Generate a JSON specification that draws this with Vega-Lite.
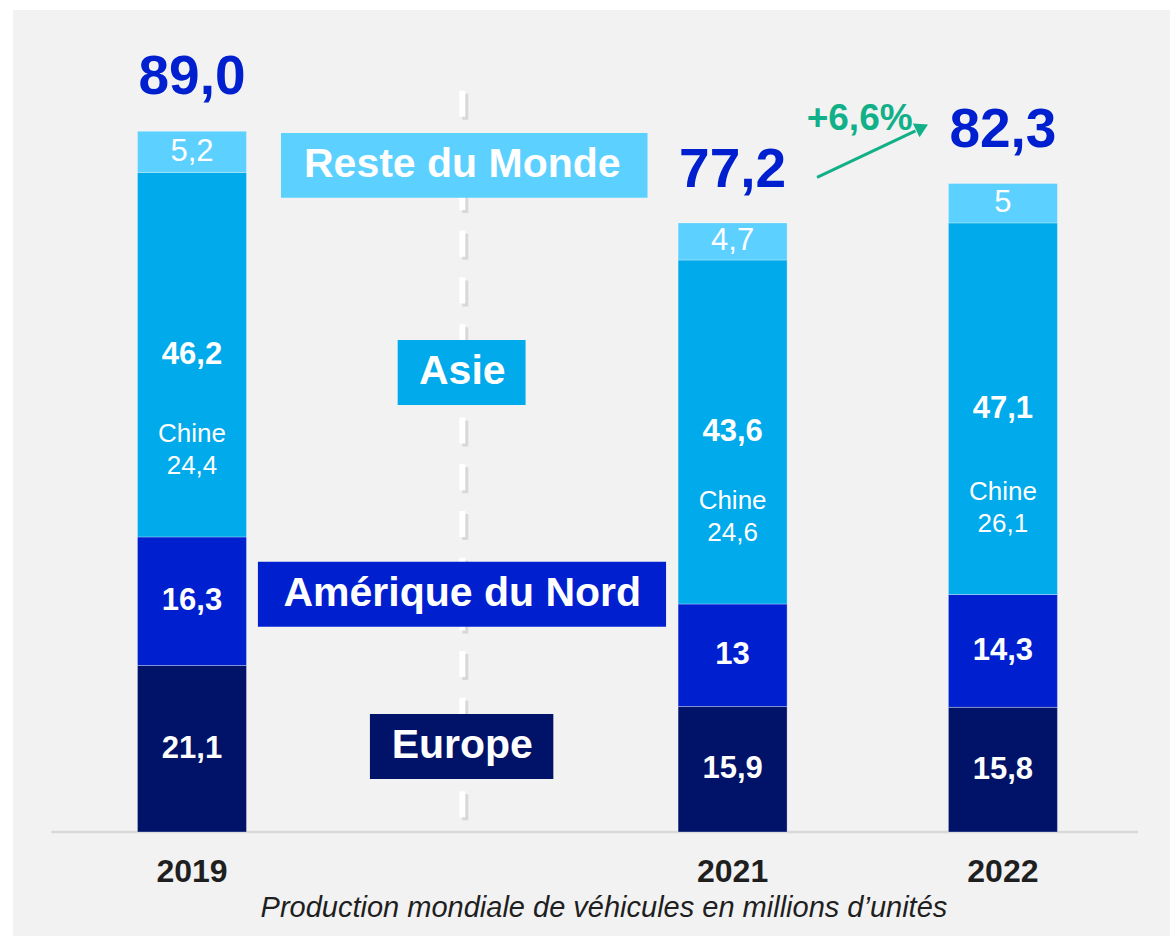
{
  "$schema": "https://vega.github.io/schema/vega-lite/v6.json",
  "width": 1157,
  "height": 926,
  "autosize": {"type": "none"},
  "padding": {"left": 13, "top": 10, "right": 0, "bottom": 0},
  "background": "#ffffff",
  "config": {
    "view": {"fill": "#F2F2F2", "stroke": null},
    "font": "Liberation Sans",
    "locale": {"number": {"decimal": ",", "thousands": "\u00a0", "grouping": [3], "currency": ["", "\u00a0€"]}}
  },
  "datasets": {
    "prod": [
      {"year": 2019, "region": "Europe", "value": 21.1},
      {"year": 2019, "region": "Amérique du Nord", "value": 16.3},
      {"year": 2019, "region": "Asie", "value": 46.2, "chine": 24.4},
      {"year": 2019, "region": "Reste du Monde", "value": 5.2},
      {"year": 2021, "region": "Europe", "value": 15.9},
      {"year": 2021, "region": "Amérique du Nord", "value": 13},
      {"year": 2021, "region": "Asie", "value": 43.6, "chine": 24.6},
      {"year": 2021, "region": "Reste du Monde", "value": 4.7},
      {"year": 2022, "region": "Europe", "value": 15.8},
      {"year": 2022, "region": "Amérique du Nord", "value": 14.3},
      {"year": 2022, "region": "Asie", "value": 47.1, "chine": 26.1},
      {"year": 2022, "region": "Reste du Monde", "value": 5}
    ],
    "totals": [
      {"year": 2019, "total": 89.0},
      {"year": 2021, "total": 77.2},
      {"year": 2022, "total": 82.3}
    ]
  },
  "layer": [
    {
      "data": {"values": [{"k": "base"}]},
      "mark": {"type": "rule", "stroke": "#D9D9D9", "strokeWidth": 2.5},
      "encoding": {
        "x": {"datum": 2018.48, "type": "quantitative", "scale": {"domain": [2018.3564, 2022.5996], "nice": false, "zero": false}, "axis": null},
        "x2": {"datum": 2022.5},
        "y": {"datum": 0, "type": "quantitative", "scale": {"domain": [-13.18, 104.18], "nice": false, "zero": false}, "axis": null}
      }
    },
    {
      "data": {"values": [{"k": "shadow"}]},
      "mark": {"type": "rule", "stroke": "#c2c2c2", "strokeWidth": 6, "strokeDash": [26, 20.7], "opacity": 0.55, "xOffset": 3, "yOffset": 3},
      "encoding": {
        "x": {"datum": 2020, "type": "quantitative", "axis": null},
        "y": {"datum": 93.95, "type": "quantitative", "axis": null},
        "y2": {"datum": 0}
      }
    },
    {
      "data": {"values": [{"k": "dash"}]},
      "mark": {"type": "rule", "stroke": "#ffffff", "strokeWidth": 6, "strokeDash": [26, 20.7]},
      "encoding": {
        "x": {"datum": 2020, "type": "quantitative", "axis": null},
        "y": {"datum": 93.95, "type": "quantitative", "axis": null},
        "y2": {"datum": 0}
      }
    },
    {
      "data": {"name": "prod"},
      "transform": [{"stack": "value", "groupby": ["year"], "as": ["y0", "y1"]}],
      "mark": {"type": "bar", "orient": "vertical", "width": 109, "stroke": "#ffffff", "strokeOpacity": 0.3, "strokeWidth": 1},
      "encoding": {
        "x": {"field": "year", "type": "quantitative", "scale": {"domain": [2018.3564, 2022.5996], "nice": false, "zero": false}, "axis": null},
        "y": {"field": "y0", "type": "quantitative", "scale": {"domain": [-13.18, 104.18], "nice": false, "zero": false}, "axis": null},
        "y2": {"field": "y1"},
        "color": {
          "field": "region", "type": "nominal",
          "scale": {"domain": ["Europe", "Amérique du Nord", "Asie", "Reste du Monde"], "range": ["#001369", "#0020D0", "#00AAEB", "#5CD0FF"]},
          "legend": null
        }
      }
    },
    {
      "data": {"name": "prod"},
      "transform": [
        {"stack": "value", "groupby": ["year"], "as": ["y0", "y1"]},
        {"filter": "datum.region != 'Reste du Monde'"},
        {"fold": ["y0", "y1"], "as": ["k", "v"]},
        {"aggregate": [{"op": "mean", "field": "v", "as": "mid"}], "groupby": ["year", "region", "value"]}
      ],
      "mark": {"type": "text", "fontSize": 31, "fontWeight": "bold", "color": "#ffffff", "baseline": "middle", "align": "center"},
      "encoding": {
        "x": {"field": "year", "type": "quantitative", "axis": null},
        "y": {"field": "mid", "type": "quantitative", "axis": null},
        "text": {"field": "value", "type": "quantitative", "format": "~g"}
      }
    },
    {
      "data": {"name": "prod"},
      "transform": [
        {"stack": "value", "groupby": ["year"], "as": ["y0", "y1"]},
        {"filter": "datum.region == 'Reste du Monde'"},
        {"fold": ["y0", "y1"], "as": ["k", "v"]},
        {"aggregate": [{"op": "mean", "field": "v", "as": "mid"}], "groupby": ["year", "region", "value"]}
      ],
      "mark": {"type": "text", "fontSize": 31, "fontWeight": "normal", "color": "#ffffff", "baseline": "middle", "align": "center"},
      "encoding": {
        "x": {"field": "year", "type": "quantitative", "axis": null},
        "y": {"field": "mid", "type": "quantitative", "axis": null},
        "text": {"field": "value", "type": "quantitative", "format": "~g"}
      }
    },
    {
      "data": {"name": "prod"},
      "transform": [
        {"stack": "value", "groupby": ["year"], "as": ["y0", "y1"]},
        {"filter": "datum.region == 'Asie'"}
      ],
      "mark": {"type": "text", "text": "Chine", "fontSize": 26, "color": "#ffffff", "baseline": "middle", "align": "center", "dy": -103},
      "encoding": {
        "x": {"field": "year", "type": "quantitative", "axis": null},
        "y": {"field": "y0", "type": "quantitative", "axis": null}
      }
    },
    {
      "data": {"name": "prod"},
      "transform": [
        {"stack": "value", "groupby": ["year"], "as": ["y0", "y1"]},
        {"filter": "datum.region == 'Asie'"}
      ],
      "mark": {"type": "text", "fontSize": 26, "color": "#ffffff", "baseline": "middle", "align": "center", "dy": -71},
      "encoding": {
        "x": {"field": "year", "type": "quantitative", "axis": null},
        "y": {"field": "y0", "type": "quantitative", "axis": null},
        "text": {"field": "chine", "type": "quantitative", "format": "~g"}
      }
    },
    {
      "data": {"name": "totals"},
      "mark": {"type": "text", "fontSize": 55, "fontWeight": "bold", "color": "#0020D0", "baseline": "alphabetic", "align": "center", "dy": -36},
      "encoding": {
        "x": {"field": "year", "type": "quantitative", "axis": null},
        "y": {"field": "total", "type": "quantitative", "axis": null},
        "text": {"field": "total", "type": "quantitative", "format": ".1f"}
      }
    },
    {
      "data": {"name": "totals"},
      "mark": {"type": "text", "fontSize": 32, "fontWeight": "bold", "color": "#1f1f1f", "baseline": "alphabetic", "align": "center", "dy": 50},
      "encoding": {
        "x": {"field": "year", "type": "quantitative", "axis": null},
        "y": {"datum": 0, "type": "quantitative", "axis": null},
        "text": {"field": "year", "type": "nominal"}
      }
    },
    {
      "data": {"values": [{"label": "Production mondiale de véhicules en millions d’unités"}]},
      "mark": {"type": "text", "fontSize": 29, "fontStyle": "italic", "color": "#1f1f1f", "baseline": "alphabetic", "align": "center"},
      "encoding": {
        "x": {"datum": 2020.524, "type": "quantitative", "axis": null},
        "y": {"datum": -10.77, "type": "quantitative", "axis": null},
        "text": {"field": "label"}
      }
    },
    {
      "data": {"values": [{"label": "Reste du Monde"}]},
      "mark": {"type": "rect", "fill": "#5CD0FF"},
      "encoding": {
        "x": {"datum": 2019.3293, "type": "quantitative", "axis": null},
        "x2": {"datum": 2020.6852},
        "y": {"datum": 80.39, "type": "quantitative", "axis": null},
        "y2": {"datum": 88.59}
      }
    },
    {
      "data": {"values": [{"label": "Asie"}]},
      "mark": {"type": "rect", "fill": "#00AAEB"},
      "encoding": {
        "x": {"datum": 2019.761, "type": "quantitative", "axis": null},
        "x2": {"datum": 2020.2341},
        "y": {"datum": 54.12, "type": "quantitative", "axis": null},
        "y2": {"datum": 62.36}
      }
    },
    {
      "data": {"values": [{"label": "Amérique du Nord"}]},
      "mark": {"type": "rect", "fill": "#0020D0"},
      "encoding": {
        "x": {"datum": 2019.2439, "type": "quantitative", "axis": null},
        "x2": {"datum": 2020.7538},
        "y": {"datum": 26.02, "type": "quantitative", "axis": null},
        "y2": {"datum": 34.26}
      }
    },
    {
      "data": {"values": [{"label": "Europe"}]},
      "mark": {"type": "rect", "fill": "#001369"},
      "encoding": {
        "x": {"datum": 2019.6583, "type": "quantitative", "axis": null},
        "x2": {"datum": 2020.3368},
        "y": {"datum": 6.72, "type": "quantitative", "axis": null},
        "y2": {"datum": 14.96}
      }
    },
    {
      "data": {"values": [{"label": "Reste du Monde"}]},
      "mark": {"type": "text", "fontSize": 41, "fontWeight": "bold", "color": "#ffffff", "baseline": "middle", "align": "center"},
      "encoding": {
        "x": {"datum": 2020, "type": "quantitative", "axis": null},
        "y": {"datum": 84.49, "type": "quantitative", "axis": null},
        "text": {"field": "label"}
      }
    },
    {
      "data": {"values": [{"label": "Asie"}]},
      "mark": {"type": "text", "fontSize": 41, "fontWeight": "bold", "color": "#ffffff", "baseline": "middle", "align": "center"},
      "encoding": {
        "x": {"datum": 2020, "type": "quantitative", "axis": null},
        "y": {"datum": 58.24, "type": "quantitative", "axis": null},
        "text": {"field": "label"}
      }
    },
    {
      "data": {"values": [{"label": "Amérique du Nord"}]},
      "mark": {"type": "text", "fontSize": 41, "fontWeight": "bold", "color": "#ffffff", "baseline": "middle", "align": "center"},
      "encoding": {
        "x": {"datum": 2020, "type": "quantitative", "axis": null},
        "y": {"datum": 30.14, "type": "quantitative", "axis": null},
        "text": {"field": "label"}
      }
    },
    {
      "data": {"values": [{"label": "Europe"}]},
      "mark": {"type": "text", "fontSize": 41, "fontWeight": "bold", "color": "#ffffff", "baseline": "middle", "align": "center"},
      "encoding": {
        "x": {"datum": 2020, "type": "quantitative", "axis": null},
        "y": {"datum": 10.84, "type": "quantitative", "axis": null},
        "text": {"field": "label"}
      }
    },
    {
      "data": {"values": [{"k": "arrow"}]},
      "mark": {"type": "rule", "stroke": "#12B088", "strokeWidth": 3},
      "encoding": {
        "x": {"datum": 2021.3124, "type": "quantitative", "axis": null},
        "x2": {"datum": 2021.6766},
        "y": {"datum": 82.98, "type": "quantitative", "axis": null},
        "y2": {"datum": 88.87}
      }
    },
    {
      "data": {"values": [{"k": "arrowhead"}]},
      "mark": {"type": "point", "shape": "triangle-right", "angle": -26, "size": 230, "filled": true, "fill": "#12B088", "opacity": 1, "strokeWidth": 0},
      "encoding": {
        "x": {"datum": 2021.7011, "type": "quantitative", "axis": null},
        "y": {"datum": 89.29, "type": "quantitative", "axis": null}
      }
    },
    {
      "data": {"values": [{"label": "+6,6%"}]},
      "mark": {"type": "text", "fontSize": 37, "fontWeight": "bold", "color": "#12B088", "baseline": "alphabetic", "align": "center"},
      "encoding": {
        "x": {"datum": 2021.47, "type": "quantitative", "axis": null},
        "y": {"datum": 88.97, "type": "quantitative", "axis": null},
        "text": {"field": "label"}
      }
    }
  ]
}
